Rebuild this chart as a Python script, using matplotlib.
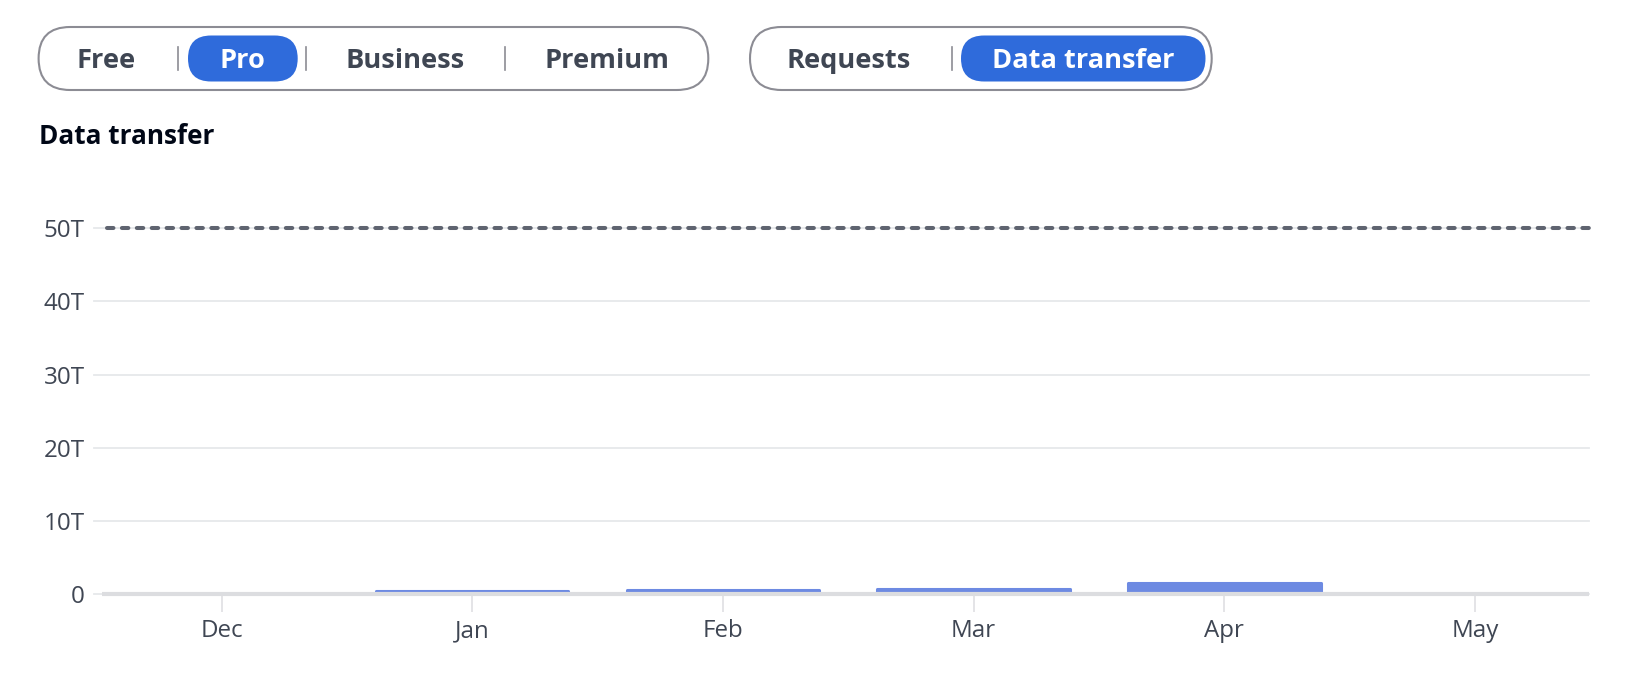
"""Monthly data-transfer usage chart with plan / metric toggle pills above it."""

import numpy as np
import matplotlib
matplotlib.use("Agg")
import matplotlib.pyplot as plt
from matplotlib.patches import FancyBboxPatch

# --- data ---
months = ["Dec", "Jan", "Feb", "Mar", "Apr", "May"]
transfer_tb = [0.0, 0.5, 0.6, 0.7, 1.5, 0.0]      # TB per month (0 = no usage)
plan_limit_tb = 50
y_ticks = [0, 10, 20, 30, 40, 50]
y_tick_labels = ["0", "10T", "20T", "30T", "40T", "50T"]

plans = ["Free", "Pro", "Business", "Premium"]
active_plan = "Pro"
metrics = ["Requests", "Data transfer"]
active_metric = "Data transfer"
chart_title = "Data transfer"

# --- style ---
FONT = ["Open Sans", "DejaVu Sans"]
TEXT = "#3f4653"
HEADING = "#000716"
BLUE = "#2f6bdb"
BAR = "#6d8ae2"
OUTLINE = "#8c8c94"
GRID = "#e6e8eb"
BASELINE = "#dcdde0"
LIMIT = "#5f6470"

plt.rcParams["font.family"] = FONT

W, H = 1638, 684
fig = plt.figure(figsize=(W / 100, H / 100), dpi=100)

# overlay axes in pixel coords for the toggle pills and heading
ov = fig.add_axes([0, 0, 1, 1])
ov.set_xlim(0, W)
ov.set_ylim(H, 0)
ov.axis("off")


def pill(x0, x1, y0, y1, **kw):
    h = y1 - y0
    ov.add_patch(FancyBboxPatch((x0, y0), x1 - x0, h,
                                boxstyle=f"round,pad=0,rounding_size={h / 2}",
                                **kw))


def toggle_group(labels, active, box, centers, seps, hl):
    """Draw one segmented control: outline, separators, highlight, labels."""
    x0, x1, y0, y1 = box
    pill(x0, x1, y0, y1, facecolor="white", edgecolor=OUTLINE, linewidth=1.5)
    for sx in seps:
        ov.plot([sx, sx], [47, 70], color=OUTLINE, lw=1.2)
    for lab, cx in zip(labels, centers):
        if lab == active:
            pill(hl[0], hl[1], 35.5, 81.5, facecolor=BLUE, edgecolor="none")
            color = "white"
        else:
            color = TEXT
        ov.text(cx, 61.5, lab, ha="center", va="center", fontsize=19.6,
                fontweight="bold", color=color)


toggle_group(plans, active_plan, (38.6, 708.3, 27, 90),
             [106.5, 242, 405, 607], [177.6, 306, 504.5], (188, 297.7))
toggle_group(metrics, active_metric, (750, 1211.7, 27, 90),
             [849, 1083], [951.6], (961, 1205.5))

ov.text(38.6, 137, chart_title, ha="left", va="center", fontsize=18.8,
        fontweight="bold", color=HEADING)

# --- main chart ---
ax = fig.add_axes([94 / W, (H - 594.3) / H, 1495 / W, 366.3 / H])
x = np.arange(len(months))
ax.set_xlim(-0.5086, len(months) - 1 + 0.4547)
ax.set_ylim(0, plan_limit_tb)

# horizontal gridlines
for yt in y_ticks:
    ax.axhline(yt, color=GRID, lw=1.3, zorder=1, clip_on=False)

# bars, stroked in their own colour with round joins for soft corners
xs = [xi for xi, v in zip(x, transfer_tb) if v > 0]
vs = [v for v in transfer_tb if v > 0]
ax.bar(xs, vs, width=0.768, color=BAR, edgecolor=BAR, linewidth=2.2,
       joinstyle="round", zorder=2)

# thick baseline sits over the bar feet
ax.plot([0.0054, 1], [0, 0], transform=ax.get_yaxis_transform(),
        color=BASELINE, lw=3, solid_capstyle="butt", zorder=3, clip_on=False)

# plan limit
lim, = ax.plot([0.009, 1], [plan_limit_tb] * 2, transform=ax.get_yaxis_transform(),
               color=LIMIT, lw=2.9, zorder=4, clip_on=False,
               dash_capstyle="round")
lim.set_dashes([1.6, 2.1])

ax.set_yticks(y_ticks)
ax.set_yticklabels(y_tick_labels)
ax.set_xticks(x)
ax.set_xticklabels(months)
ax.tick_params(axis="y", length=0, pad=6.8, labelsize=17.4, labelcolor=TEXT)
ax.tick_params(axis="x", length=13, width=1.1, color=BASELINE, pad=5,
               labelsize=17.4, labelcolor=TEXT)
for s in ax.spines.values():
    s.set_visible(False)
ax.patch.set_visible(False)

fig.savefig("out.png", dpi=100)
